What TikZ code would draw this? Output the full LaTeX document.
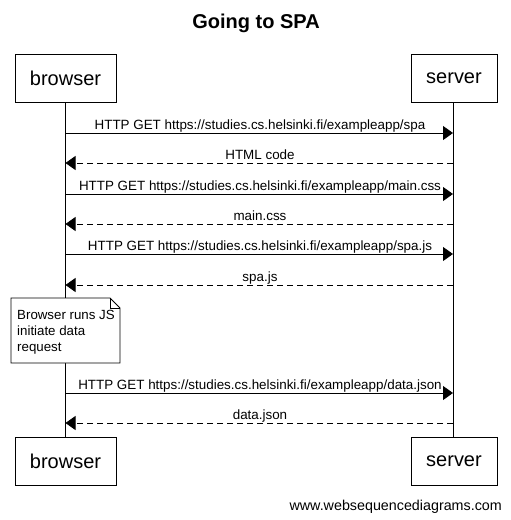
\documentclass[tikz,border=0pt]{standalone}
\usepackage{fontspec}
\setmainfont{Liberation Sans}
\usetikzlibrary{arrows.meta}
\begin{document}
\begin{tikzpicture}[x=1pt,y=-1pt,
  actor/.style={draw,line width=0.8pt,minimum height=48pt,inner sep=0pt,font=\fontsize{20}{24}\selectfont},
  msg/.style={line width=0.8pt,-{Triangle[length=10pt,width=14pt]}},
  ret/.style={msg,dash pattern=on 6pt off 4pt},
  lbl/.style={font=\fontsize{13.4}{16}\selectfont,inner sep=0pt,anchor=base}
]
\useasboundingbox (0,0) rectangle (511,520);
\fill[white] (0,0) rectangle (511,520);
\node[font=\bfseries\fontsize{20}{24}\selectfont] (title) at (256,23) {Going to SPA};
\node[actor,minimum width=101pt] (bt) at (65.5,78.5) {browser};
\node[actor,minimum width=86pt] (st) at (454,78.5) {server};
\node[actor,minimum width=101pt] (bb) at (65.5,461.5) {browser};
\node[actor,minimum width=86pt] (sb) at (454,461.5) {server};
\coordinate (bl) at (65.5,0);
\coordinate (sl) at (453,0);
\draw[line width=0.8pt] (bt.south -| bl) -- (bb.north -| bl);
\draw[line width=0.8pt] (st.south -| sl) -- (sb.north -| sl);
% messages
\foreach \y/\t in {133/{HTTP GET https://studies.cs.helsinki.fi/exampleapp/spa},
                     194/{HTTP GET https://studies.cs.helsinki.fi/exampleapp/main.css},
                     254/{HTTP GET https://studies.cs.helsinki.fi/exampleapp/spa.js},
                     393/{HTTP GET https://studies.cs.helsinki.fi/exampleapp/data.json}}{
  \coordinate (a) at (65.5,\y); \coordinate (b) at (453,\y);
  \draw[msg] (a) -- (b);
  \node[lbl] at (260,\y-3.5) {\t};
}
\foreach \y/\t in {163/{HTML code},224/{main.css},285/{spa.js},423/{data.json}}{
  \coordinate (a) at (453,\y); \coordinate (b) at (65.5,\y);
  \draw[ret] (a) -- (b);
  \node[lbl] at (260,\y-3.5) {\t};
}
% note
\draw[line width=0.8pt,fill=white] (11,298) -- (110,298) -- (120,308) -- (120,363) -- (11,363) -- cycle;
\draw[line width=0.8pt] (110,298) -- (110,308) -- (120,308);
\node[font=\fontsize{13.3}{16}\selectfont,align=left,anchor=north west,inner sep=0pt] (note) at (17,310) {Browser runs JS\\initiate data\\request};
\node[font=\fontsize{14.3}{17}\selectfont,anchor=base east,inner sep=0pt] (wm) at (502,510) {www.websequencediagrams.com};
\end{tikzpicture}
\end{document}
